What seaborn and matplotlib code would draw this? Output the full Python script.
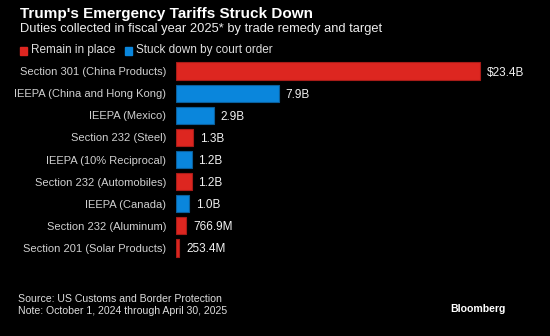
import matplotlib
matplotlib.use("Agg")
import matplotlib.pyplot as plt
import seaborn as sns
import pandas as pd
from matplotlib.patches import Rectangle

categories = ["Section 301 (China Products)", "IEEPA (China and Hong Kong)", "IEEPA (Mexico)",
              "Section 232 (Steel)", "IEEPA (10% Reciprocal)", "Section 232 (Automobiles)",
              "IEEPA (Canada)", "Section 232 (Aluminum)", "Section 201 (Solar Products)"]
values_bn = [23.4, 7.9, 2.9, 1.3, 1.2, 1.2, 1.0, 0.7669, 0.2534]
status = ["Remain in place", "Stuck down by court order", "Stuck down by court order",
          "Remain in place", "Stuck down by court order", "Remain in place",
          "Stuck down by court order", "Remain in place", "Remain in place"]
value_labels = ["$23.4B", "7.9B", "2.9B", "1.3B", "1.2B", "1.2B", "1.0B", "766.9M", "253.4M"]
legend_names = ["Remain in place", "Stuck down by court order"]

RED = "#dd2620"
BLUE = "#0a86dc"
palette = {"Remain in place": RED, "Stuck down by court order": BLUE}
edges = {"Remain in place": "#a81c18", "Stuck down by court order": "#0a5f9c"}

df = pd.DataFrame({"cat": categories, "val": values_bn, "status": status})

sns.set_style("dark")
plt.rcParams["font.family"] = ["Liberation Sans", "DejaVu Sans"]

fig = plt.figure(figsize=(5.5, 3.36), dpi=100, facecolor="black")
ax = fig.add_axes([176/550, 1 - 259/336, (540 - 176)/550, (259 - 60)/336])
ax.set_facecolor("black")

sns.barplot(data=df, y="cat", x="val", hue="status", palette=palette, dodge=False,
            orient="h", width=0.78, ax=ax, legend=False, hue_order=legend_names,
            saturation=1)

# edge colors per bar
for cont, name in zip(ax.containers, legend_names):
    for p in cont:
        p.set_edgecolor(edges[name])
        p.set_linewidth(0.8)

# value labels
for cont in ax.containers:
    labs = []
    for p in cont:
        yc = p.get_y() + p.get_height() / 2
        idx = int(round(yc))
        labs.append(value_labels[idx] if p.get_width() > 0 else "")
    anns = ax.bar_label(cont, labels=labs, padding=5, color="#f2f2f2", fontsize=8.5)
    for a in anns:
        a.set_va("center_baseline")

ax.set_xlim(0, 23.4 * (540 - 176) / (480 - 176))
ax.set_ylim(len(categories) - 0.5, -0.5)
ax.set_xlabel("")
ax.set_ylabel("")
ax.set_xticks([])
ax.tick_params(axis="y", length=0, pad=7, colors="#d0d0d0", labelsize=8)
for s in ax.spines.values():
    s.set_visible(False)
ax.grid(False)

fig.text(20/550, 1 - 14/336, "Trump's Emergency Tariffs Struck Down", color="white",
         fontsize=11, fontweight="bold", va="center", ha="left")
fig.text(20/550, 1 - 29/336, "Duties collected in fiscal year 2025* by trade remedy and target",
         color="#eeeeee", fontsize=9.3, va="center", ha="left")

# legend
for name, col, tx in [("Remain in place", RED, 20), ("Stuck down by court order", BLUE, 125)]:
    fig.patches.append(Rectangle((tx/550, 1 - 54.5/336), 7/550, 7/336, color=col,
                                 transform=fig.transFigure, figure=fig))
    fig.text((tx + 11)/550, 1 - 50.5/336, name, color="#dddddd", fontsize=8.5,
             va="center", ha="left")

fig.text(18/550, 1 - 299/336, "Source: US Customs and Border Protection", color="#dddddd",
         fontsize=7.6, va="center", ha="left")
fig.text(18/550, 1 - 311/336, "Note: October 1, 2024 through April 30, 2025", color="#dddddd",
         fontsize=7.6, va="center", ha="left")
fig.text(506/550, 1 - 309/336, "Bloomberg", color="white", fontsize=7.6, fontweight="bold",
         va="center", ha="right")

fig.savefig("out.png", dpi=100, facecolor="black")
